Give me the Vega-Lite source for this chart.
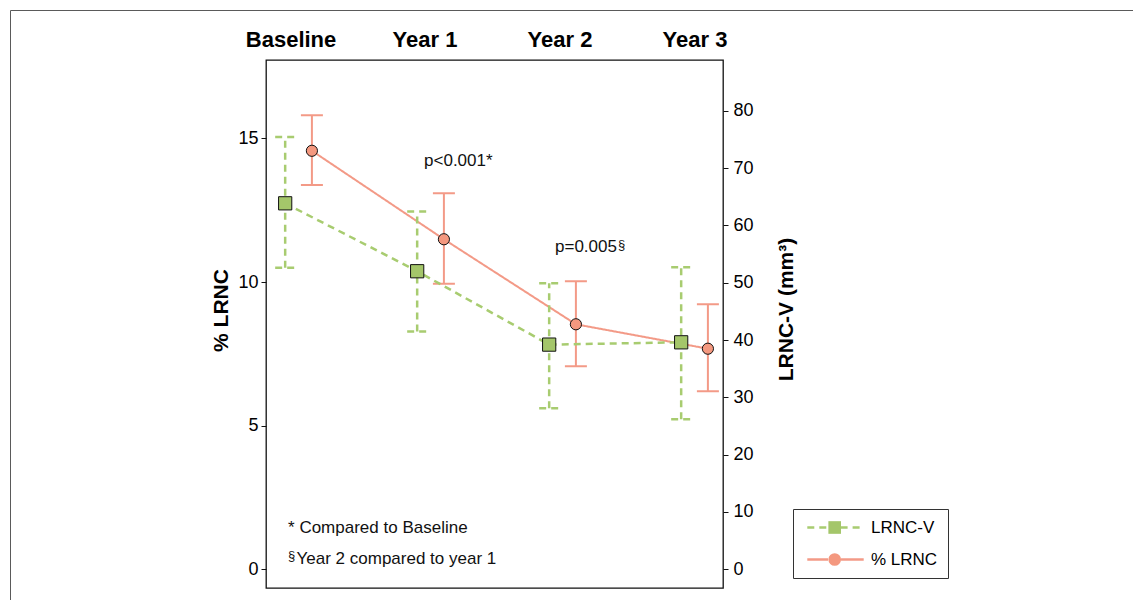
{
  "$schema": "https://vega.github.io/schema/vega-lite/v6.json",
  "autosize": {"type": "none"},
  "padding": {"left": 266, "top": 60, "right": 410, "bottom": 12},
  "width": 457,
  "height": 528,
  "background": "white",
  "config": {
    "font": "Liberation Sans",
    "view": {"stroke": "#111", "strokeWidth": 1.3},
    "axis": {"grid": false, "labelColor": "#000", "titleColor": "#000", "tickColor": "#111", "domainColor": "#111"}
  },
  "datasets": {
    "main": [
      {"time": "Baseline", "series": "% LRNC", "value": 14.57, "lo": 13.38, "hi": 15.81},
      {"time": "Year 1", "series": "% LRNC", "value": 11.49, "lo": 9.94, "hi": 13.09},
      {"time": "Year 2", "series": "% LRNC", "value": 8.53, "lo": 7.07, "hi": 10.03},
      {"time": "Year 3", "series": "% LRNC", "value": 7.68, "lo": 6.2, "hi": 9.23},
      {"time": "Baseline", "series": "LRNC-V", "value": 63.85, "lo": 52.6, "hi": 75.4},
      {"time": "Year 1", "series": "LRNC-V", "value": 52.0, "lo": 41.5, "hi": 62.4},
      {"time": "Year 2", "series": "LRNC-V", "value": 39.2, "lo": 28.1, "hi": 49.9},
      {"time": "Year 3", "series": "LRNC-V", "value": 39.6, "lo": 26.2, "hi": 52.7}
    ]
  },
  "resolve": {"scale": {"y": "independent"}, "axis": {"y": "independent"}},
  "layer": [
    {
      "data": {"name": "main"},
      "transform": [{"filter": "datum.series === '% LRNC'"}],
      "layer": [
        {
          "mark": {"type": "line", "strokeWidth": 2},
          "encoding": {
            "x": {"field": "time", "type": "nominal", "scale": {"type": "band", "domain": ["Baseline", "Year 1", "Year 2", "Year 3"], "paddingInner": 0.595, "paddingOuter": 0.0286, "align": 0.77},
              "axis": {"orient": "top", "title": null, "ticks": false, "domain": false, "labelAngle": 0, "labelFontSize": 22, "labelFontWeight": "bold", "labelBaseline": "alphabetic", "labelPadding": 14,
                "labelOffset": {"condition": [{"test": "datum.value === 'Baseline'", "value": -7.5}, {"test": "datum.value === 'Year 1'", "value": -5.5}, {"test": "datum.value === 'Year 2'", "value": -2.5}], "value": 0.5}}},
            "xOffset": {"field": "series", "type": "nominal", "scale": {"domain": ["LRNC-V", "% LRNC"], "paddingInner": 0, "paddingOuter": 0}},
            "y": {"field": "value", "type": "quantitative", "scale": {"domain": [-0.65, 17.73], "nice": false, "zero": false},
              "axis": {"orient": "left", "title": "% LRNC", "values": [0, 5, 10, 15], "tickSize": 5, "domain": false, "labelFontSize": 18, "labelPadding": 3, "titleFontSize": 21, "titleFontWeight": "bold", "titlePadding": 6, "titleY": 250}},
            "stroke": {"field": "series", "type": "nominal", "scale": {"domain": ["LRNC-V", "% LRNC"], "range": ["#a8cc70", "#f39a87"]},
              "legend": {"orient": "none", "legendX": 527, "legendY": 449, "title": null, "padding": 10, "strokeColor": "#333", "symbolType": "M-0.7,0H2.75M4.85,0H8.7", "symbolSize": 144, "symbolStrokeWidth": 2.5, "labelFontSize": 17, "labelColor": "#000", "labelOffset": 51, "rowPadding": 14}},
            "strokeDash": {"field": "series", "type": "nominal", "scale": {"domain": ["LRNC-V", "% LRNC"], "range": [[7, 5], [1, 0]]},
              "legend": {"orient": "none", "legendX": 527, "legendY": 449, "title": null, "padding": 10, "strokeColor": "#333", "symbolType": "M-0.7,0H2.75M4.85,0H8.7", "symbolSize": 144, "symbolStrokeWidth": 2.5, "labelFontSize": 17, "labelColor": "#000", "labelOffset": 51, "rowPadding": 14}}
          }
        },
        {
          "mark": {"type": "rule", "strokeWidth": 2},
          "encoding": {
            "x": {"field": "time", "type": "nominal"},
            "xOffset": {"field": "series", "type": "nominal"},
            "y": {"field": "lo", "type": "quantitative"},
            "y2": {"field": "hi"},
            "stroke": {"field": "series", "type": "nominal"},
            "strokeDash": {"field": "series", "type": "nominal"}
          }
        },
        {
          "mark": {"type": "point", "shape": "M-1,0H1", "size": 484, "filled": false, "strokeWidth": 2, "opacity": 1},
          "encoding": {
            "x": {"field": "time", "type": "nominal"},
            "xOffset": {"field": "series", "type": "nominal"},
            "y": {"field": "lo", "type": "quantitative"},
            "stroke": {"field": "series", "type": "nominal"},
            "strokeDash": {"field": "series", "type": "nominal"}
          }
        },
        {
          "mark": {"type": "point", "shape": "M-1,0H1", "size": 484, "filled": false, "strokeWidth": 2, "opacity": 1},
          "encoding": {
            "x": {"field": "time", "type": "nominal"},
            "xOffset": {"field": "series", "type": "nominal"},
            "y": {"field": "hi", "type": "quantitative"},
            "stroke": {"field": "series", "type": "nominal"},
            "strokeDash": {"field": "series", "type": "nominal"}
          }
        },
        {
          "mark": {"type": "point", "filled": true, "size": 125, "stroke": "#111", "strokeWidth": 1, "opacity": 1},
          "encoding": {
            "x": {"field": "time", "type": "nominal"},
            "xOffset": {"field": "series", "type": "nominal"},
            "y": {"field": "value", "type": "quantitative"},
            "fill": {"field": "series", "type": "nominal", "scale": {"domain": ["LRNC-V", "% LRNC", "-"], "range": ["#a4c66a", "#f4987f", "#ffffff"]},
              "legend": {"orient": "none", "legendX": 550.2, "legendY": 449, "title": null, "padding": 10, "values": ["LRNC-V", "% LRNC"], "symbolSize": 160, "symbolStrokeColor": "#111", "symbolStrokeWidth": 1, "labelFontSize": 17, "labelExpr": "' '", "rowPadding": 14}},
            "shape": {"field": "series", "type": "nominal", "scale": {"domain": ["LRNC-V", "% LRNC", "-"], "range": ["square", "circle", "circle"]},
              "legend": {"orient": "none", "legendX": 550.2, "legendY": 449, "title": null, "padding": 10, "values": ["LRNC-V", "% LRNC"], "symbolSize": 160, "symbolStrokeColor": "#111", "symbolStrokeWidth": 1, "labelFontSize": 17, "labelExpr": "' '", "rowPadding": 14}}
          }
        },
        {
          "data": {"values": [{"time": "Year 1", "value": 14.04}]},
          "mark": {"type": "text", "text": "p<0.001*", "align": "left", "baseline": "alphabetic", "dx": -6.5, "fontSize": 17, "color": "#111"},
          "encoding": {"x": {"field": "time", "type": "nominal"}, "y": {"field": "value", "type": "quantitative"}}
        },
        {
          "data": {"values": [{"time": "Year 2", "value": 11.04}]},
          "mark": {"type": "text", "text": "p=0.005", "align": "left", "baseline": "alphabetic", "dx": -7.5, "fontSize": 17, "color": "#111"},
          "encoding": {"x": {"field": "time", "type": "nominal"}, "y": {"field": "value", "type": "quantitative"}}
        },
        {
          "data": {"values": [{"time": "Year 2", "value": 11.04}]},
          "mark": {"type": "text", "text": "§", "align": "left", "baseline": "alphabetic", "dx": 55.5, "dy": -3, "fontSize": 13, "color": "#111"},
          "encoding": {"x": {"field": "time", "type": "nominal"}, "y": {"field": "value", "type": "quantitative"}}
        },
        {
          "data": {"values": [{"time": "Baseline", "value": 1.263}]},
          "mark": {"type": "text", "text": "* Compared to Baseline", "align": "left", "baseline": "alphabetic", "dx": -10.5, "fontSize": 17, "color": "#111"},
          "encoding": {"x": {"field": "time", "type": "nominal"}, "y": {"field": "value", "type": "quantitative"}}
        },
        {
          "data": {"values": [{"time": "Baseline", "value": 0.184}]},
          "mark": {"type": "text", "text": "§", "align": "left", "baseline": "alphabetic", "dx": -10.5, "dy": -4, "fontSize": 13, "color": "#111"},
          "encoding": {"x": {"field": "time", "type": "nominal"}, "y": {"field": "value", "type": "quantitative"}}
        },
        {
          "data": {"values": [{"time": "Baseline", "value": 0.184}]},
          "mark": {"type": "text", "text": "Year 2 compared to year 1", "align": "left", "baseline": "alphabetic", "dx": -2, "fontSize": 17, "color": "#111"},
          "encoding": {"x": {"field": "time", "type": "nominal"}, "y": {"field": "value", "type": "quantitative"}}
        },
        {
          "mark": {"type": "text", "text": ""},
          "encoding": {
            "x": {"field": "time", "type": "nominal"},
            "y": {"field": "value", "type": "quantitative"},
            "opacity": {"field": "value", "type": "quantitative", "legend": {"orient": "none", "legendX": -256, "legendY": -50, "padding": 600, "strokeColor": "#5a5a5a", "title": null, "values": [10], "labelExpr": "' '", "symbolOpacity": 0}}
          }
        }
      ]
    },
    {
      "data": {"name": "main"},
      "transform": [{"filter": "datum.series === 'LRNC-V'"}],
      "layer": [
        {
          "mark": {"type": "line", "strokeWidth": 2.5},
          "encoding": {
            "x": {"field": "time", "type": "nominal"},
            "xOffset": {"field": "series", "type": "nominal"},
            "y": {"field": "value", "type": "quantitative", "scale": {"domain": [-3.26, 88.85], "nice": false, "zero": false},
              "axis": {"orient": "right", "title": "LRNC-V (mm³)", "values": [0, 10, 20, 30, 40, 50, 60, 70, 80], "tickSize": 5, "domain": false, "labelFontSize": 18, "labelPadding": 5, "titleFontSize": 21, "titleFontWeight": "bold", "titleAngle": 270, "titleX": 63, "titleY": 249, "titleBaseline": "middle", "titleAlign": "center"}},
            "stroke": {"field": "series", "type": "nominal"},
            "strokeDash": {"field": "series", "type": "nominal"}
          }
        },
        {
          "mark": {"type": "rule", "strokeWidth": 2.5},
          "encoding": {
            "x": {"field": "time", "type": "nominal"},
            "xOffset": {"field": "series", "type": "nominal"},
            "y": {"field": "lo", "type": "quantitative"},
            "y2": {"field": "hi"},
            "stroke": {"field": "series", "type": "nominal"},
            "strokeDash": {"field": "series", "type": "nominal"}
          }
        },
        {
          "mark": {"type": "point", "shape": "M-1,0H1", "size": 400, "filled": false, "strokeWidth": 2.5, "opacity": 1},
          "encoding": {
            "x": {"field": "time", "type": "nominal"},
            "xOffset": {"field": "series", "type": "nominal"},
            "y": {"field": "lo", "type": "quantitative"},
            "stroke": {"field": "series", "type": "nominal"},
            "strokeDash": {"field": "series", "type": "nominal"}
          }
        },
        {
          "mark": {"type": "point", "shape": "M-1,0H1", "size": 400, "filled": false, "strokeWidth": 2.5, "opacity": 1},
          "encoding": {
            "x": {"field": "time", "type": "nominal"},
            "xOffset": {"field": "series", "type": "nominal"},
            "y": {"field": "hi", "type": "quantitative"},
            "stroke": {"field": "series", "type": "nominal"},
            "strokeDash": {"field": "series", "type": "nominal"}
          }
        },
        {
          "mark": {"type": "point", "filled": true, "size": 175, "stroke": "#111", "strokeWidth": 1, "opacity": 1},
          "encoding": {
            "x": {"field": "time", "type": "nominal"},
            "xOffset": {"field": "series", "type": "nominal"},
            "y": {"field": "value", "type": "quantitative"},
            "fill": {"field": "series", "type": "nominal"},
            "shape": {"field": "series", "type": "nominal"}
          }
        }
      ]
    }
  ]
}
